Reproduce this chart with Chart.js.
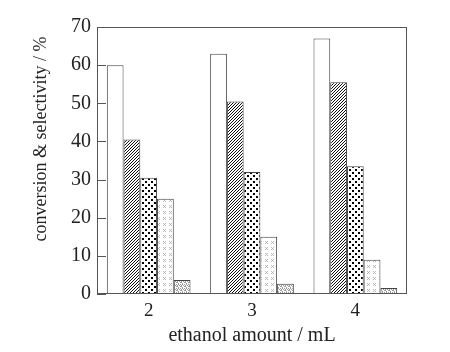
<!DOCTYPE html>
<html>
<head>
<meta charset="utf-8">
<script src="https://cdn.jsdelivr.net/npm/chart.js@4.4.1/dist/chart.umd.min.js"></script>
<style>
  html, body { margin: 0; padding: 0; background: #fff; }
  #wrap { width: 450px; height: 352px; }
</style>
</head>
<body>
<div id="wrap"><canvas id="chart" width="450" height="352"></canvas></div>
<script>
// valores
const categories = ['2', '3', '4'];
const conversion = [60, 63, 67];
const selectivityA = [40.5, 50.5, 55.5];
const selectivityB = [30.5, 32, 33.5];
const selectivityC = [25, 15, 9];
const selectivityD = [3.7, 2.7, 1.6];
const yTicks = [0, 10, 20, 30, 40, 50, 60, 70];
const yTitle = 'conversion & selectivity / %';

// patrones de relleno
function makePattern(size, draw) {
    const c = document.createElement('canvas');
    c.width = size; c.height = size;
    const g = c.getContext('2d');
    g.fillStyle = '#fff';
    g.fillRect(0, 0, size, size);
    draw(g, size);
    return c.getContext('2d').createPattern(c, 'repeat');
}

const diagPattern = makePattern(3, function(g, s) {
    g.strokeStyle = '#111';
    g.lineWidth = 1;
    g.beginPath();
    g.moveTo(0, s); g.lineTo(s, 0);
    g.moveTo(-1, 1); g.lineTo(1, -1);
    g.moveTo(s - 1, s + 1); g.lineTo(s + 1, s - 1);
    g.stroke();
});

const dotPattern = makePattern(6, function(g) {
    g.fillStyle = '#000';
    g.fillRect(1, 1, 2, 2);
    g.fillRect(4, 4, 2, 2);
});

const crossPattern = makePattern(6, function(g, s) {
    g.strokeStyle = '#aaa';
    g.lineWidth = 0.8;
    g.beginPath();
    g.moveTo(1, 1); g.lineTo(4, 4);
    g.moveTo(4, 1); g.lineTo(1, 4);
    g.stroke();
});

const gridPattern = makePattern(4, function(g) {
    g.fillStyle = '#999';
    g.fillRect(0, 0, 1, 1);
    g.fillRect(2, 0, 1, 1);
    g.fillRect(1, 1, 1, 1);
    g.fillRect(3, 1, 1, 1);
    g.fillRect(0, 2, 2, 1);
    g.fillRect(2, 3, 1, 1);
});

const fontFam = '"Liberation Serif", "Times New Roman", serif';

// marco, marcas hacia dentro y titulo vertical
const framePlugin = {
    id: 'frame',
    afterDraw(chart) {
        const ctx = chart.ctx;
        const a = chart.chartArea;
        const y = chart.scales.y;
        ctx.save();
        ctx.strokeStyle = '#555';
        ctx.lineWidth = 1;
        ctx.strokeRect(a.left + 0.5, a.top + 0.5, a.right - a.left - 1, a.bottom - a.top - 1);
        ctx.beginPath();
        yTicks.forEach(function(v) {
            const py = Math.round(y.getPixelForValue(v)) + 0.5;
            ctx.moveTo(a.left, py);
            ctx.lineTo(a.left + 9, py);
        });
        ctx.stroke();

        ctx.translate(41, 139);
        ctx.rotate(-Math.PI / 2);
        ctx.fillStyle = '#222';
        ctx.font = '18px ' + fontFam;
        ctx.textAlign = 'center';
        ctx.textBaseline = 'middle';
        ctx.fillText(yTitle, 0, 0);
        ctx.restore();
    }
};

const barStyle = {
    borderColor: '#444',
    borderWidth: 1,
    borderSkipped: false,
    categoryPercentage: 0.81,
    barPercentage: 1.0
};

new Chart(document.getElementById('chart').getContext('2d'), {
    type: 'bar',
    data: {
        labels: categories,
        datasets: [
            Object.assign({ label: 'conversion', data: conversion, backgroundColor: '#fff' }, barStyle),
            Object.assign({ label: 'selectivity A', data: selectivityA, backgroundColor: diagPattern }, barStyle),
            Object.assign({ label: 'selectivity B', data: selectivityB, backgroundColor: dotPattern }, barStyle),
            Object.assign({ label: 'selectivity C', data: selectivityC, backgroundColor: crossPattern }, barStyle),
            Object.assign({ label: 'selectivity D', data: selectivityD, backgroundColor: gridPattern }, barStyle)
        ]
    },
    options: {
        responsive: false,
        animation: false,
        layout: { padding: { left: 52, right: 43, top: 27, bottom: 4 } },
        plugins: { legend: { display: false }, tooltip: { enabled: false } },
        scales: {
            x: {
                grid: { display: false, drawTicks: false },
                border: { display: false },
                ticks: { color: '#222', font: { family: fontFam, size: 19 }, padding: 6 },
                title: { display: true, text: 'ethanol amount / mL', color: '#222', font: { family: fontFam, size: 20 }, padding: { top: 3, bottom: 0 } },
                afterFit: function(s) { s.height = 54; }
            },
            y: {
                min: 0, max: 70,
                afterBuildTicks: function(s) { s.ticks = yTicks.map(function(v) { return { value: v }; }); },
                grid: { display: false, drawTicks: false },
                border: { display: false },
                ticks: { color: '#222', font: { family: fontFam, size: 20 }, padding: 6 },
                afterFit: function(s) { s.width = 45; }
            }
        }
    },
    plugins: [framePlugin]
});
</script>
</body>
</html>
